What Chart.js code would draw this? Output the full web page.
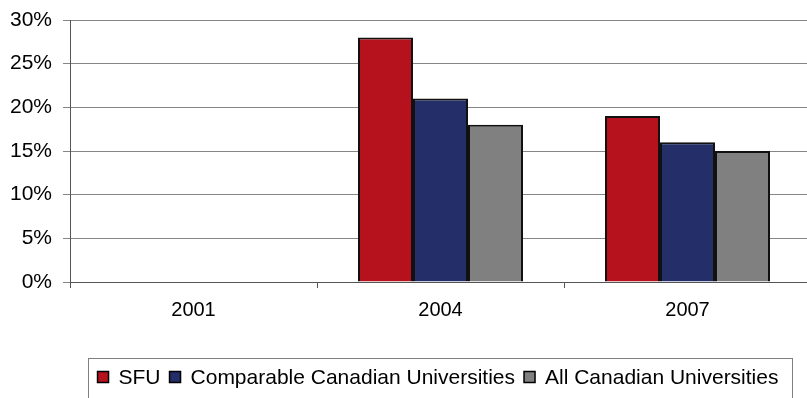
<!DOCTYPE html>
<html>
<head>
<meta charset="utf-8">
<script src="https://cdn.jsdelivr.net/npm/chart.js@4/dist/chart.umd.min.js"></script>
<style>
  html, body { margin: 0; padding: 0; background: #fff; overflow: hidden; }
  #wrap { position: relative; width: 811px; height: 398px; }
</style>
</head>
<body>
<div id="wrap"><canvas id="c"></canvas></div>
<script>
// Survey years on the category axis
const years = ['2001', '2004', '2007'];

// Share of respondents (%) per year; no data for 2001
const sfu = [null, 28, 19];
const comparable = [null, 21, 16];
const allCanadian = [null, 18, 15];

// Value axis ticks
const yTicks = [0, 5, 10, 15, 20, 25, 30];

const FONT = "'Liberation Sans', Arial, sans-serif";

// Boxed legend drawn beneath the plot, one swatch per dataset
const boxedLegend = {
  id: 'boxedLegend',
  afterDraw(chart) {
    const ctx = chart.ctx;
    const o = chart.options.plugins.boxedLegend;
    const items = chart.data.datasets.map(ds => ({ text: ds.label, fill: ds.backgroundColor }));
    ctx.save();
    ctx.font = o.fontSize + 'px ' + FONT;
    const widths = items.map(it => ctx.measureText(it.text).width);
    let total = 0;
    items.forEach((it, i) => {
      total += o.box + o.gap + widths[i];
      if (i < items.length - 1) total += o.spacing;
    });
    // frame
    ctx.strokeStyle = '#7f7f7f';
    ctx.lineWidth = 1;
    ctx.strokeRect(o.left + 0.5, o.top + 0.5, o.right - o.left, o.bottom - o.top);
    let x = o.centerX - total / 2;
    const cy = o.centerY;
    ctx.textBaseline = 'middle';
    ctx.textAlign = 'left';
    items.forEach((it, i) => {
      ctx.fillStyle = it.fill;
      ctx.fillRect(x, cy - o.box / 2, o.box, o.box);
      ctx.strokeStyle = '#000';
      ctx.lineWidth = 1.5;
      ctx.strokeRect(x, cy - o.box / 2, o.box, o.box);
      ctx.fillStyle = '#000';
      ctx.fillText(it.text, x + o.box + o.gap, cy + 1);
      x += o.box + o.gap + widths[i] + o.spacing;
    });
    ctx.restore();
  }
};

new Chart(document.getElementById('c'), {
  type: 'bar',
  data: {
    labels: years,
    datasets: [
      { label: 'SFU', data: sfu, backgroundColor: '#b5121d' },
      { label: 'Comparable Canadian Universities', data: comparable, backgroundColor: '#242e68' },
      { label: 'All Canadian Universities', data: allCanadian, backgroundColor: '#808080' }
    ]
  },
  plugins: [boxedLegend],
  options: {
    responsive: true,
    maintainAspectRatio: false,
    animation: false,
    layout: { padding: { top: 20, left: 0, right: 0, bottom: 0 } },
    datasets: {
      bar: {
        categoryPercentage: 0.668,
        barPercentage: 1,
        borderColor: '#111',
        borderWidth: 2,
        borderSkipped: 'bottom'
      }
    },
    scales: {
      x: {
        grid: {
          drawOnChartArea: false,
          tickLength: 6,
          tickColor: '#555',
          color: '#555'
        },
        border: { color: '#555', width: 1 },
        ticks: {
          color: '#000',
          padding: 10,
          font: { family: FONT, size: 20 }
        },
        afterFit(scale) { scale.height = 116; }
      },
      y: {
        min: 0,
        max: 30,
        afterBuildTicks(scale) { scale.ticks = yTicks.map(v => ({ value: v })); },
        grid: {
          color: '#868686',
          tickLength: 7,
          tickColor: '#868686'
        },
        border: { color: '#555', width: 1 },
        ticks: {
          color: '#000',
          padding: 11,
          font: { family: FONT, size: 21 },
          callback: v => v + '%'
        },
        afterFit(scale) {
          scale.width = 70;
          // the plot top is set by the layout padding alone
          scale.paddingTop = 0;
          scale.paddingBottom = 0;
        }
      }
    },
    plugins: {
      legend: { display: false },
      tooltip: { enabled: false },
      boxedLegend: {
        left: 88, right: 792, top: 358, bottom: 420,
        centerX: 438, centerY: 377, box: 11, gap: 10, spacing: 9, fontSize: 21
      }
    }
  }
});
</script>
</body>
</html>
